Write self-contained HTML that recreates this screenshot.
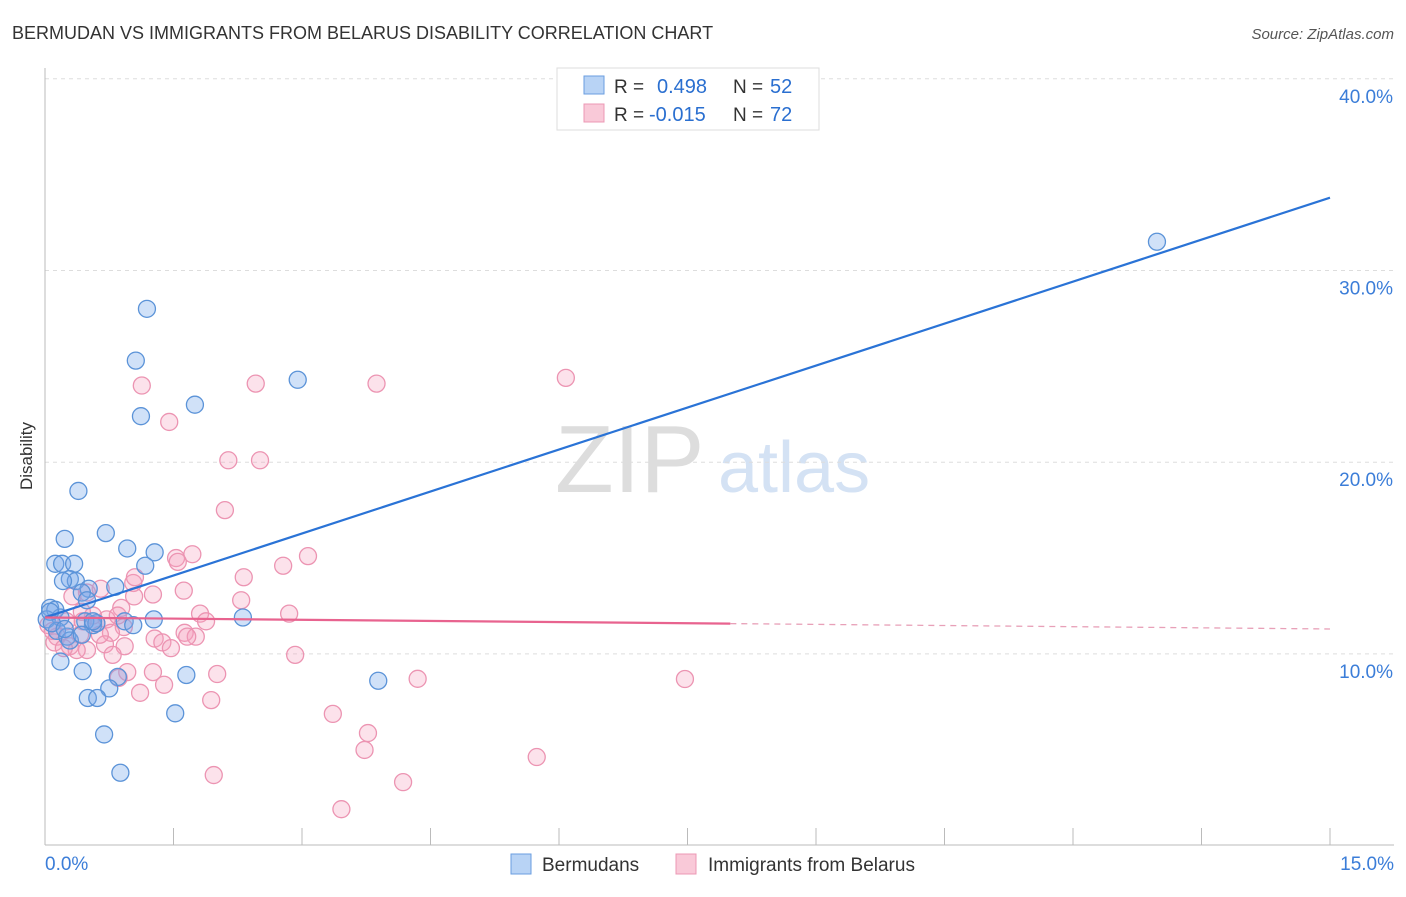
<!DOCTYPE html>
<html><head><meta charset="utf-8"><style>
body{margin:0;background:#fff;font-family:"Liberation Sans",sans-serif}
svg text{font-family:"Liberation Sans",sans-serif}
</style></head><body>
<svg id="c" width="1406" height="892" xmlns="http://www.w3.org/2000/svg">
<text x="12" y="39" font-size="18" fill="#333">BERMUDAN VS IMMIGRANTS FROM BELARUS DISABILITY CORRELATION CHART</text>
<text x="1394" y="39" font-size="15" fill="#555" font-style="italic" text-anchor="end">Source: ZipAtlas.com</text>
<text x="32" y="456" font-size="17" fill="#333" transform="rotate(-90 32 456)" text-anchor="middle">Disability</text>
<text x="555" y="492" font-size="96" fill="#ddd" font-family="Liberation Serif">ZIP</text>
<text x="718" y="492" font-size="72" fill="#d4e2f4">atlas</text>
<g id="grid"></g><g id="pts"></g><g id="lines"></g>
<g>
<rect x="557" y="68" width="262" height="62" fill="#fff" stroke="#ddd"/>
<rect x="584" y="76" width="20" height="18" fill="#b8d3f5" stroke="#6a9ee0"/>
<rect x="584" y="104" width="20" height="18" fill="#f9c9d8" stroke="#ec98b4"/>
<text x="614" y="93" font-size="19" fill="#333">R = </text><text x="657" y="93" font-size="20" fill="#2a6fd0">0.498</text>
<text x="733" y="93" font-size="19" fill="#333">N = </text><text x="770" y="93" font-size="20" fill="#2a6fd0">52</text>
<text x="614" y="121" font-size="19" fill="#333">R = </text><text x="649" y="121" font-size="20" fill="#2a6fd0">-0.015</text>
<text x="733" y="121" font-size="19" fill="#333">N = </text><text x="770" y="121" font-size="20" fill="#2a6fd0">72</text>
</g>
<g>
<rect x="511" y="854" width="20" height="20" fill="#b8d3f5" stroke="#6a9ee0"/>
<text x="542" y="871" font-size="19" fill="#333">Bermudans</text>
<rect x="676" y="854" width="20" height="20" fill="#f9c9d8" stroke="#ec98b4"/>
<text x="708" y="871" font-size="19" fill="#333">Immigrants from Belarus</text>
</g>
</svg>
<script>
const xTicks=[0,1.5,3,4.5,6,7.5,9,10.5,12,13.5,15];
const yTicks=[10,20,30,40];
const yTickLabels=["10.0%","20.0%","30.0%","40.0%"];
const blueX=[12.98,1.19,1.06,2.95,1.75,1.12,0.39,0.23,0.71,0.96,1.28,0.12,0.20,0.34,1.17,0.29,0.36,0.21,0.82,0.51,0.43,0.49,0.06,0.12,2.31,1.27,0.02,0.18,0.93,1.03,0.56,0.47,0.14,0.26,0.29,0.43,0.18,0.44,1.65,3.89,0.85,0.75,0.50,0.61,1.52,0.69,0.88,0.06,0.60,0.08,0.23,0.56];
const blueY=[31.5,28.0,25.3,24.3,23.0,22.4,18.5,16.0,16.3,15.5,15.3,14.7,14.7,14.7,14.6,13.9,13.8,13.8,13.5,13.4,13.2,12.8,12.4,12.3,11.9,11.8,11.8,11.9,11.7,11.5,11.5,11.7,11.2,10.9,10.7,11.0,9.6,9.1,8.9,8.6,8.8,8.2,7.7,7.7,6.9,5.8,3.8,12.2,11.6,11.6,11.3,11.7];
const pinkX=[6.08,3.87,2.46,1.13,1.45,2.14,2.51,2.10,3.07,1.72,1.53,1.55,2.78,2.32,1.03,0.65,1.62,1.26,2.29,0.49,0.32,1.04,0.89,2.85,1.81,0.56,1.88,0.72,0.60,0.44,0.92,1.63,1.28,1.76,1.37,0.77,0.41,0.14,0.11,0.29,0.70,0.93,0.49,1.47,0.37,2.92,0.79,0.22,1.26,0.96,2.01,4.35,7.47,0.86,1.39,1.11,1.94,3.36,3.77,3.73,5.74,1.97,4.18,3.46,0.25,0.04,0.09,0.43,0.85,1.05,1.66,0.64];
const pinkY=[24.4,24.1,24.1,24.0,22.1,20.1,20.1,17.5,15.1,15.2,15.0,14.8,14.6,14.0,13.7,13.4,13.3,13.1,12.8,13.2,13.0,13.0,12.4,12.1,12.1,12.0,11.7,11.8,11.6,11.7,11.4,11.1,10.8,10.9,10.6,11.1,11.0,10.9,10.6,10.4,10.5,10.4,10.2,10.3,10.2,9.95,9.95,10.3,9.05,9.05,8.95,8.70,8.69,8.75,8.39,7.97,7.59,6.87,5.87,4.99,4.62,3.68,3.31,1.90,11.7,11.5,11.2,12.2,12.0,14.0,10.9,11.0];
const NS="http://www.w3.org/2000/svg";
const sx=v=>45+v*85.667, sy=v=>845.6-v*19.17;
function mk(t,a,p){const e=document.createElementNS(NS,t);for(const k in a)e.setAttribute(k,a[k]);p.appendChild(e);return e;}
const grid=document.getElementById('grid');
yTicks.forEach((v,i)=>{
 const l=mk('line',{x1:45,x2:1394,y1:sy(v),y2:sy(v),stroke:'#ddd','stroke-dasharray':'4,4'},grid);
 
 
 const t=mk('text',{x:1393,y:sy(v)+24,'font-size':19,fill:'#3b7dd8','text-anchor':'end'},grid);t.textContent=yTickLabels[i];
 
 
});
mk('line',{x1:45,x2:45,y1:68,y2:845,stroke:'#bbb'},grid);
mk('line',{x1:45,x2:1394,y1:845,y2:845,stroke:'#bbb'},grid);
xTicks.forEach(v=>{const l=mk('line',{x1:sx(v),x2:sx(v),y1:828,y2:845,stroke:'#bbb'},grid);
 
 });
let t=mk('text',{x:45,y:870,'font-size':19,fill:'#3b7dd8'},grid);t.textContent='0.0%';


t=mk('text',{x:1394,y:870,'font-size':19,fill:'#3b7dd8','text-anchor':'end'},grid);t.textContent='15.0%';


const pts=document.getElementById('pts');
pinkX.forEach((x,i)=>{const c=mk('circle',{cx:sx(x),cy:sy(pinkY[i]),r:8.5,fill:'rgba(244,160,190,0.3)',stroke:'#ec94b2','stroke-width':1.3},pts);
 
 });
blueX.forEach((x,i)=>{const c=mk('circle',{cx:sx(x),cy:sy(blueY[i]),r:8.5,fill:'rgba(120,170,235,0.35)',stroke:'#5b93d8','stroke-width':1.3},pts);
 
 });
const lines=document.getElementById('lines');
const blueFit=[11.9,33.8], pinkFit=[11.9,11.3], pinkSolidEnd=8.0;
let l=mk('line',{x1:sx(0),y1:sy(blueFit[0]),x2:sx(15),y2:sy(blueFit[1]),stroke:'#2a73d6','stroke-width':2.2},lines);


const pm=pinkFit[0]+(pinkFit[1]-pinkFit[0])*pinkSolidEnd/15;
l=mk('line',{x1:sx(0),y1:sy(pinkFit[0]),x2:sx(pinkSolidEnd),y2:sy(pm),stroke:'#e8638f','stroke-width':2.2},lines);


l=mk('line',{x1:sx(pinkSolidEnd),y1:sy(pm),x2:sx(15),y2:sy(pinkFit[1]),stroke:'#e8a0b8','stroke-width':1.3,'stroke-dasharray':'6,5'},lines);


</script>
</body></html>
